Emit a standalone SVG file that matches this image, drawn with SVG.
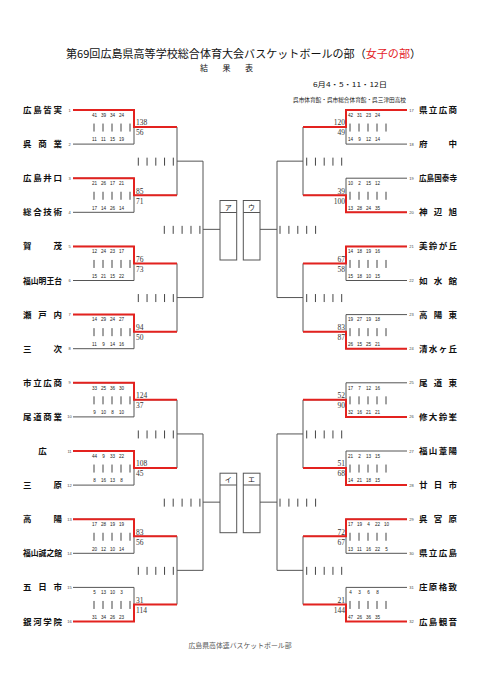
<svg xmlns="http://www.w3.org/2000/svg" width="481" height="680" viewBox="0 0 481 680">
<style>
.t{font-family:"Noto Sans CJK JP","Noto Sans",sans-serif;fill:#111}
.nm{font-family:"Noto Sans CJK JP",sans-serif;font-size:8.5px;font-weight:bold;fill:#111}
.no{font-family:"Liberation Sans",sans-serif;font-size:4px;fill:#444;text-anchor:middle}
.ps{font-family:"Liberation Sans",sans-serif;font-size:4.6px;fill:#222;text-anchor:middle}
.sc{font-family:"Liberation Serif",serif;font-size:7.5px;fill:#333}
.scr{font-family:"Liberation Serif",serif;font-size:7.5px;fill:#333;text-anchor:end}
.g{fill:none;stroke:#555;stroke-width:1}
.r{fill:none;stroke:#e3221f;stroke-width:2}
.bar{fill:none;stroke:#444;stroke-width:1}
.bx{fill:#fff;stroke:#555;stroke-width:1}
.lb{font-family:"Noto Sans CJK JP",sans-serif;font-size:7px;fill:#111;text-anchor:middle}
</style>
<rect width="481" height="680" fill="#fff"/>
<g id="header">
<text class="t" x="66" y="58.3" font-size="11" textLength="355" lengthAdjust="spacingAndGlyphs">第69回広島県高等学校総合体育大会バスケットボールの部（<tspan fill="#e3221f">女子の部</tspan>）</text>
<text class="t" x="200" y="70.8" font-size="8" textLength="53" lengthAdjust="spacing">結果表</text>
<text class="t" x="313" y="87" font-size="6.3" textLength="74" lengthAdjust="spacingAndGlyphs">6月4・5・11・12日</text>
<text class="t" x="293" y="101.5" font-size="5.6" textLength="113" lengthAdjust="spacingAndGlyphs">呉市体育館・呉市総合体育館・呉三津田高校</text>
</g>
<g id="connectors">
<path class="g" d="M73 110H134V144.1M73 144.1H134M134 127.05H177M73 178.2H134V212.3M73 212.3H134M134 195.25H177M73 246.4H134V280.5M73 280.5H134M134 263.45H177M73 314.6H134V348.7M73 348.7H134M134 331.65H177M73 382.8H134V416.9M73 416.9H134M134 399.85H177M73 451H134V485.1M73 485.1H134M134 468.05H177M73 519.2H134V553.3M73 553.3H134M134 536.25H177M73 587.4H134V621.5M73 621.5H134M134 604.45H177"/>
<path class="g" d="M177 127.05V195.25M177 161.15H203M177 263.45V331.65M177 297.55H203M177 399.85V468.05M177 433.95H203M177 536.25V604.45M177 570.35H203M203 161.15V297.55M203 229.35H220M203 433.95V570.35M203 502.15H220"/>
<path class="g" d="M407 110H346V144.1M407 144.1H346M346 127.05H303M407 178.2H346V212.3M407 212.3H346M346 195.25H303M407 246.4H346V280.5M407 280.5H346M346 263.45H303M407 314.6H346V348.7M407 348.7H346M346 331.65H303M407 382.8H346V416.9M407 416.9H346M346 399.85H303M407 451H346V485.1M407 485.1H346M346 468.05H303M407 519.2H346V553.3M407 553.3H346M346 536.25H303M407 587.4H346V621.5M407 621.5H346M346 604.45H303"/>
<path class="g" d="M303 127.05V195.25M303 161.15H277M303 263.45V331.65M303 297.55H277M303 399.85V468.05M303 433.95H277M303 536.25V604.45M303 570.35H277M277 161.15V297.55M277 229.35H259M277 433.95V570.35M277 502.15H259"/>
<path class="r" d="M73 110H134V127.05H177M73 178.2H134V195.25H177M73 246.4H134V263.45H177M73 314.6H134V331.65H177M73 382.8H134V399.85H177M73 451H134V468.05H177M73 519.2H134V536.25H177M73 621.5H134V604.45H177"/>
<path class="r" d="M407 110H346V127.05H303M407 212.3H346V195.25H303M407 246.4H346V263.45H303M407 348.7H346V331.65H303M407 416.9H346V399.85H303M407 485.1H346V468.05H303M407 519.2H346V536.25H303M407 621.5H346V604.45H303"/>
</g>
<g id="tallies">
<path class="bar" d="M94 123.55v8m9-8v8m9-8v8m9-8v8m9-8v8M94 191.75v8m9-8v8m9-8v8m9-8v8m9-8v8M94 259.95v8m9-8v8m9-8v8m9-8v8m9-8v8M94 328.15v8m9-8v8m9-8v8m9-8v8m9-8v8M94 396.35v8m9-8v8m9-8v8m9-8v8m9-8v8M94 464.55v8m9-8v8m9-8v8m9-8v8m9-8v8M94 532.75v8m9-8v8m9-8v8m9-8v8m9-8v8M94 600.95v8m9-8v8m9-8v8m9-8v8m9-8v8"/>
<path class="bar" d="M350 123.55v8m9-8v8m9-8v8m9-8v8m9-8v8M350 191.75v8m9-8v8m9-8v8m9-8v8m9-8v8M350 259.95v8m9-8v8m9-8v8m9-8v8m9-8v8M350 328.15v8m9-8v8m9-8v8m9-8v8m9-8v8M350 396.35v8m9-8v8m9-8v8m9-8v8m9-8v8M350 464.55v8m9-8v8m9-8v8m9-8v8m9-8v8M350 532.75v8m9-8v8m9-8v8m9-8v8m9-8v8M350 600.95v8m9-8v8m9-8v8m9-8v8m9-8v8"/>
<path class="bar" d="M138.3 157.65v8m8.75-8v8m8.75-8v8m8.75-8v8m8.75-8v8M138.3 294.05v8m8.75-8v8m8.75-8v8m8.75-8v8m8.75-8v8M138.3 430.45v8m8.75-8v8m8.75-8v8m8.75-8v8m8.75-8v8M138.3 566.85v8m8.75-8v8m8.75-8v8m8.75-8v8m8.75-8v8"/>
<path class="bar" d="M306.7 157.65v8m8.75-8v8m8.75-8v8m8.75-8v8m8.75-8v8M306.7 294.05v8m8.75-8v8m8.75-8v8m8.75-8v8m8.75-8v8M306.7 430.45v8m8.75-8v8m8.75-8v8m8.75-8v8m8.75-8v8M306.7 566.85v8m8.75-8v8m8.75-8v8m8.75-8v8m8.75-8v8"/>
<path class="bar" d="M164.3 225.85v8m8.9-8v8m8.9-8v8m8.9-8v8m8.9-8v8M164.3 498.65v8m8.9-8v8m8.9-8v8m8.9-8v8m8.9-8v8M280 225.85v8m8.9-8v8m8.9-8v8m8.9-8v8m8.9-8v8M280 498.65v8m8.9-8v8m8.9-8v8m8.9-8v8m8.9-8v8"/>
</g>
<g id="scores">
<text class="sc" x="136" y="125.3">138</text><text class="sc" x="136" y="135.4">56</text>
<text class="sc" x="136" y="193.5">85</text><text class="sc" x="136" y="203.6">71</text>
<text class="sc" x="136" y="261.7">76</text><text class="sc" x="136" y="271.8">73</text>
<text class="sc" x="136" y="329.9">94</text><text class="sc" x="136" y="340">50</text>
<text class="sc" x="136" y="398">124</text><text class="sc" x="136" y="408.2">37</text>
<text class="sc" x="136" y="466.3">108</text><text class="sc" x="136" y="476.4">45</text>
<text class="sc" x="136" y="534.5">83</text><text class="sc" x="136" y="544.6">56</text>
<text class="sc" x="136" y="602.7">31</text><text class="sc" x="136" y="612.8">114</text>
<text class="scr" x="345" y="125.3">120</text><text class="scr" x="345" y="135.4">49</text>
<text class="scr" x="345" y="193.5">39</text><text class="scr" x="345" y="203.6">100</text>
<text class="scr" x="345" y="261.7">67</text><text class="scr" x="345" y="271.8">58</text>
<text class="scr" x="345" y="329.9">83</text><text class="scr" x="345" y="340">87</text>
<text class="scr" x="345" y="398">52</text><text class="scr" x="345" y="408.2">90</text>
<text class="scr" x="345" y="466.3">51</text><text class="scr" x="345" y="476.4">68</text>
<text class="scr" x="345" y="534.5">72</text><text class="scr" x="345" y="544.6">67</text>
<text class="scr" x="345" y="602.7">21</text><text class="scr" x="345" y="612.8">144</text>
</g>
<g id="box-a"><rect class="bx" x="220" y="200.5" width="16.7" height="59.5"/><path class="g" d="M220 212.5H236.7"/><text class="lb" x="228.3" y="209.5">ア</text></g>
<g id="box-u"><rect class="bx" x="243.3" y="200.5" width="16.7" height="59.5"/><path class="g" d="M243.3 212.5H260"/><text class="lb" x="251.6" y="209.5">ウ</text></g>
<g id="box-i"><rect class="bx" x="220" y="473.2" width="16.7" height="59.5"/><path class="g" d="M220 485H236.7"/><text class="lb" x="228.3" y="482">イ</text></g>
<g id="box-e"><rect class="bx" x="243.3" y="473.2" width="16.7" height="59.5"/><path class="g" d="M243.3 485H260"/><text class="lb" x="251.6" y="482">エ</text></g>
<g id="t1"><text class="nm" x="23" y="113" textLength="39" lengthAdjust="spacing">広島皆実</text><text class="no" x="69.5" y="111.5">1</text><text class="ps" y="116.7"><tspan x="94.5">41</tspan><tspan x="103.5">39</tspan><tspan x="112.5">34</tspan><tspan x="121.5">24</tspan></text></g>
<g id="t2"><text class="nm" x="23" y="147.1" textLength="39" lengthAdjust="spacing">呉商業</text><text class="no" x="69.5" y="145.6">2</text><text class="ps" y="141.3"><tspan x="94.5">11</tspan><tspan x="103.5">11</tspan><tspan x="112.5">15</tspan><tspan x="121.5">19</tspan></text></g>
<g id="t3"><text class="nm" x="23" y="181.2" textLength="39" lengthAdjust="spacing">広島井口</text><text class="no" x="69.5" y="179.7">3</text><text class="ps" y="184.9"><tspan x="94.5">21</tspan><tspan x="103.5">26</tspan><tspan x="112.5">17</tspan><tspan x="121.5">21</tspan></text></g>
<g id="t4"><text class="nm" x="23" y="215.3" textLength="39" lengthAdjust="spacing">総合技術</text><text class="no" x="69.5" y="213.8">4</text><text class="ps" y="209.5"><tspan x="94.5">17</tspan><tspan x="103.5">14</tspan><tspan x="112.5">26</tspan><tspan x="121.5">14</tspan></text></g>
<g id="t5"><text class="nm" x="23" y="249.4" textLength="39" lengthAdjust="spacing">賀茂</text><text class="no" x="69.5" y="247.9">5</text><text class="ps" y="253.1"><tspan x="94.5">12</tspan><tspan x="103.5">24</tspan><tspan x="112.5">23</tspan><tspan x="121.5">17</tspan></text></g>
<g id="t6"><text class="nm" x="23" y="283.5" textLength="39" lengthAdjust="spacingAndGlyphs">福山明王台</text><text class="no" x="69.5" y="282">6</text><text class="ps" y="277.7"><tspan x="94.5">15</tspan><tspan x="103.5">21</tspan><tspan x="112.5">15</tspan><tspan x="121.5">22</tspan></text></g>
<g id="t7"><text class="nm" x="23" y="317.6" textLength="39" lengthAdjust="spacing">瀬戸内</text><text class="no" x="69.5" y="316.1">7</text><text class="ps" y="321.3"><tspan x="94.5">14</tspan><tspan x="103.5">29</tspan><tspan x="112.5">24</tspan><tspan x="121.5">27</tspan></text></g>
<g id="t8"><text class="nm" x="23" y="351.7" textLength="39" lengthAdjust="spacing">三次</text><text class="no" x="69.5" y="350.2">8</text><text class="ps" y="345.9"><tspan x="94.5">11</tspan><tspan x="103.5">9</tspan><tspan x="112.5">14</tspan><tspan x="121.5">16</tspan></text></g>
<g id="t9"><text class="nm" x="23" y="385.8" textLength="39" lengthAdjust="spacing">市立広商</text><text class="no" x="69.5" y="384.3">9</text><text class="ps" y="389.5"><tspan x="94.5">33</tspan><tspan x="103.5">25</tspan><tspan x="112.5">36</tspan><tspan x="121.5">30</tspan></text></g>
<g id="t10"><text class="nm" x="23" y="419.9" textLength="39" lengthAdjust="spacing">尾道商業</text><text class="no" x="69.5" y="418.4">10</text><text class="ps" y="414.1"><tspan x="94.5">9</tspan><tspan x="103.5">10</tspan><tspan x="112.5">8</tspan><tspan x="121.5">10</tspan></text></g>
<g id="t11"><text class="nm" x="42.5" y="454" text-anchor="middle">広</text><text class="no" x="69.5" y="452.5">11</text><text class="ps" y="457.7"><tspan x="94.5">44</tspan><tspan x="103.5">9</tspan><tspan x="112.5">33</tspan><tspan x="121.5">22</tspan></text></g>
<g id="t12"><text class="nm" x="23" y="488.1" textLength="39" lengthAdjust="spacing">三原</text><text class="no" x="69.5" y="486.6">12</text><text class="ps" y="482.3"><tspan x="94.5">8</tspan><tspan x="103.5">16</tspan><tspan x="112.5">13</tspan><tspan x="121.5">8</tspan></text></g>
<g id="t13"><text class="nm" x="23" y="522.2" textLength="39" lengthAdjust="spacing">高陽</text><text class="no" x="69.5" y="520.7">13</text><text class="ps" y="525.9"><tspan x="94.5">17</tspan><tspan x="103.5">28</tspan><tspan x="112.5">19</tspan><tspan x="121.5">19</tspan></text></g>
<g id="t14"><text class="nm" x="23" y="556.3" textLength="39" lengthAdjust="spacingAndGlyphs">福山誠之館</text><text class="no" x="69.5" y="554.8">14</text><text class="ps" y="550.5"><tspan x="94.5">20</tspan><tspan x="103.5">12</tspan><tspan x="112.5">10</tspan><tspan x="121.5">14</tspan></text></g>
<g id="t15"><text class="nm" x="23" y="590.4" textLength="39" lengthAdjust="spacing">五日市</text><text class="no" x="69.5" y="588.9">15</text><text class="ps" y="594.1"><tspan x="94.5">5</tspan><tspan x="103.5">13</tspan><tspan x="112.5">10</tspan><tspan x="121.5">3</tspan></text></g>
<g id="t16"><text class="nm" x="23" y="624.5" textLength="39" lengthAdjust="spacing">銀河学院</text><text class="no" x="69.5" y="623">16</text><text class="ps" y="618.7"><tspan x="94.5">31</tspan><tspan x="103.5">34</tspan><tspan x="112.5">26</tspan><tspan x="121.5">23</tspan></text></g>
<g id="t17"><text class="nm" x="419" y="113" textLength="38" lengthAdjust="spacing">県立広商</text><text class="no" x="411.5" y="111.5">17</text><text class="ps" y="116.7"><tspan x="350.5">42</tspan><tspan x="359.5">31</tspan><tspan x="368.5">23</tspan><tspan x="377.5">24</tspan></text></g>
<g id="t18"><text class="nm" x="419" y="147.1" textLength="38" lengthAdjust="spacing">府中</text><text class="no" x="411.5" y="145.6">18</text><text class="ps" y="141.3"><tspan x="350.5">14</tspan><tspan x="359.5">9</tspan><tspan x="368.5">12</tspan><tspan x="377.5">14</tspan></text></g>
<g id="t19"><text class="nm" x="419" y="181.2" textLength="38" lengthAdjust="spacingAndGlyphs">広島国泰寺</text><text class="no" x="411.5" y="179.7">19</text><text class="ps" y="184.9"><tspan x="350.5">10</tspan><tspan x="359.5">2</tspan><tspan x="368.5">15</tspan><tspan x="377.5">12</tspan></text></g>
<g id="t20"><text class="nm" x="419" y="215.3" textLength="38" lengthAdjust="spacing">神辺旭</text><text class="no" x="411.5" y="213.8">20</text><text class="ps" y="209.5"><tspan x="350.5">13</tspan><tspan x="359.5">28</tspan><tspan x="368.5">24</tspan><tspan x="377.5">35</tspan></text></g>
<g id="t21"><text class="nm" x="419" y="249.4" textLength="38" lengthAdjust="spacing">美鈴が丘</text><text class="no" x="411.5" y="247.9">21</text><text class="ps" y="253.1"><tspan x="350.5">14</tspan><tspan x="359.5">18</tspan><tspan x="368.5">19</tspan><tspan x="377.5">16</tspan></text></g>
<g id="t22"><text class="nm" x="419" y="283.5" textLength="38" lengthAdjust="spacing">如水館</text><text class="no" x="411.5" y="282">22</text><text class="ps" y="277.7"><tspan x="350.5">15</tspan><tspan x="359.5">18</tspan><tspan x="368.5">10</tspan><tspan x="377.5">15</tspan></text></g>
<g id="t23"><text class="nm" x="419" y="317.6" textLength="38" lengthAdjust="spacing">高陽東</text><text class="no" x="411.5" y="316.1">23</text><text class="ps" y="321.3"><tspan x="350.5">19</tspan><tspan x="359.5">27</tspan><tspan x="368.5">19</tspan><tspan x="377.5">18</tspan></text></g>
<g id="t24"><text class="nm" x="419" y="351.7" textLength="38" lengthAdjust="spacing">清水ヶ丘</text><text class="no" x="411.5" y="350.2">24</text><text class="ps" y="345.9"><tspan x="350.5">26</tspan><tspan x="359.5">15</tspan><tspan x="368.5">25</tspan><tspan x="377.5">21</tspan></text></g>
<g id="t25"><text class="nm" x="419" y="385.8" textLength="38" lengthAdjust="spacing">尾道東</text><text class="no" x="411.5" y="384.3">25</text><text class="ps" y="389.5"><tspan x="350.5">17</tspan><tspan x="359.5">7</tspan><tspan x="368.5">12</tspan><tspan x="377.5">16</tspan></text></g>
<g id="t26"><text class="nm" x="419" y="419.9" textLength="38" lengthAdjust="spacing">修大鈴峯</text><text class="no" x="411.5" y="418.4">26</text><text class="ps" y="414.1"><tspan x="350.5">32</tspan><tspan x="359.5">16</tspan><tspan x="368.5">21</tspan><tspan x="377.5">21</tspan></text></g>
<g id="t27"><text class="nm" x="419" y="454" textLength="38" lengthAdjust="spacing">福山葦陽</text><text class="no" x="411.5" y="452.5">27</text><text class="ps" y="457.7"><tspan x="350.5">21</tspan><tspan x="359.5">2</tspan><tspan x="368.5">13</tspan><tspan x="377.5">15</tspan></text></g>
<g id="t28"><text class="nm" x="419" y="488.1" textLength="38" lengthAdjust="spacing">廿日市</text><text class="no" x="411.5" y="486.6">28</text><text class="ps" y="482.3"><tspan x="350.5">14</tspan><tspan x="359.5">21</tspan><tspan x="368.5">18</tspan><tspan x="377.5">15</tspan></text></g>
<g id="t29"><text class="nm" x="419" y="522.2" textLength="38" lengthAdjust="spacing">呉宮原</text><text class="no" x="411.5" y="520.7">29</text><text class="ps" y="525.9"><tspan x="350.5">17</tspan><tspan x="359.5">19</tspan><tspan x="368.5">4</tspan><tspan x="377.5">22</tspan><tspan x="386.5">10</tspan></text></g>
<g id="t30"><text class="nm" x="419" y="556.3" textLength="38" lengthAdjust="spacing">県立広島</text><text class="no" x="411.5" y="554.8">30</text><text class="ps" y="550.5"><tspan x="350.5">13</tspan><tspan x="359.5">11</tspan><tspan x="368.5">16</tspan><tspan x="377.5">22</tspan><tspan x="386.5">5</tspan></text></g>
<g id="t31"><text class="nm" x="419" y="590.4" textLength="38" lengthAdjust="spacing">庄原格致</text><text class="no" x="411.5" y="588.9">31</text><text class="ps" y="594.1"><tspan x="350.5">4</tspan><tspan x="359.5">3</tspan><tspan x="368.5">6</tspan><tspan x="377.5">8</tspan></text></g>
<g id="t32"><text class="nm" x="419" y="624.5" textLength="38" lengthAdjust="spacing">広島観音</text><text class="no" x="411.5" y="623">32</text><text class="ps" y="618.7"><tspan x="350.5">47</tspan><tspan x="359.5">26</tspan><tspan x="368.5">36</tspan><tspan x="377.5">35</tspan></text></g>
<g id="footer"><text class="t" x="188.5" y="648" font-size="6.8" textLength="103" lengthAdjust="spacingAndGlyphs" style="fill:#555">広島県高体連バスケットボール部</text></g>
</svg>
